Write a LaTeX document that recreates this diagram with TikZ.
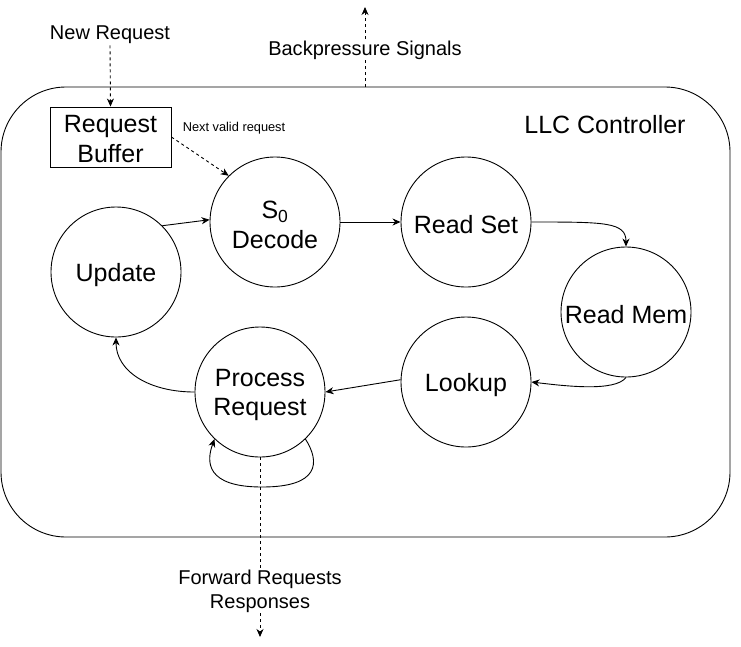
\documentclass[tikz,border=0pt]{standalone}
\usepackage{fontspec}
\setmainfont{Liberation Sans}
\usetikzlibrary{arrows.meta}
\begin{document}
\begin{tikzpicture}[x=1pt,y=-1pt,line width=0.9pt,
  state/.style={circle,draw,minimum size=130pt,inner sep=0pt},
  bigtxt/.style={font=\fontsize{25}{29.5}\selectfont,align=center},
  intxt/.style={bigtxt,yshift=-3pt,inner sep=0pt},
  midtxt/.style={font=\fontsize{20}{24}\selectfont,align=center,fill=white,inner sep=1pt},
  smalltxt/.style={font=\fontsize{12.8}{15}\selectfont},
  arr/.style={-{Stealth[length=8pt,width=7pt,inset=2.5pt]}},
  dasharr/.style={arr,dash pattern=on 3pt off 3pt}]
\useasboundingbox (0,0) rectangle (741,646);
% outer box
\draw[rounded corners=65pt] (1,87) rectangle (730,537);
\node[bigtxt] (llc) at (605,125) {LLC Controller};
% request buffer
\node[draw,minimum width=121pt,minimum height=60pt,inner sep=0pt,
  label={[intxt,yshift=1pt]center:{Request\\Buffer}}] (buf) at (110.5,137) {};
% states
\node[state,label={[intxt]center:{S\textsubscript{0}\\Decode}}] (s0) at (275,222) {};
\node[state,label={[intxt]center:{Read Set}}] (rs) at (466,222) {};
\node[state,label={[intxt]center:{Read Mem}}] (rm) at (626,312) {};
\node[state,label={[intxt]center:{Lookup}}] (lk) at (466,382) {};
\node[state,label={[intxt]center:{Process\\Request}}] (pr) at (260,392) {};
\node[state,label={[intxt]center:{Update}}] (up) at (116,272) {};
% inputs / outputs
\node[midtxt] (nr) at (110,35) {New Request};
\draw[dasharr] (nr.south) -- (buf.north);
\coordinate (bpin) at (365,87);
\coordinate (bpout) at (365,7);
\draw[dasharr] (bpin) -- (bpout);
\node[midtxt] (bp) at (365,50) {Backpressure Signals};
\node[smalltxt] (nv) at (234,128) {Next valid request};
\draw[dasharr] (buf.east) -- (s0.135);
\coordinate (fwd) at (260,637);
\draw[dasharr] (pr.south) -- (fwd);
\node[midtxt] (fr) at (260,591) {Forward Requests\\Responses};
% transitions
\draw[arr] (up.45) -- (s0.178);
\draw[arr] (s0.east) -- (rs.west);
\draw[arr] (rs.east) .. controls (605,222) and (626,222) .. (rm.north);
\draw[arr] (rm.south) .. controls (615,392) and (565,386) .. (lk.east);
\draw[arr] (lk.178) -- (pr.east);
\draw[arr] (pr.west) .. controls (150,392) and (116,372) .. (up.south);
\draw[arr] (pr.-46) .. controls (320,462) and (320,487) .. (262,487)
  .. controls (206,487) and (206,462) .. (pr.-134);
\end{tikzpicture}
\end{document}
